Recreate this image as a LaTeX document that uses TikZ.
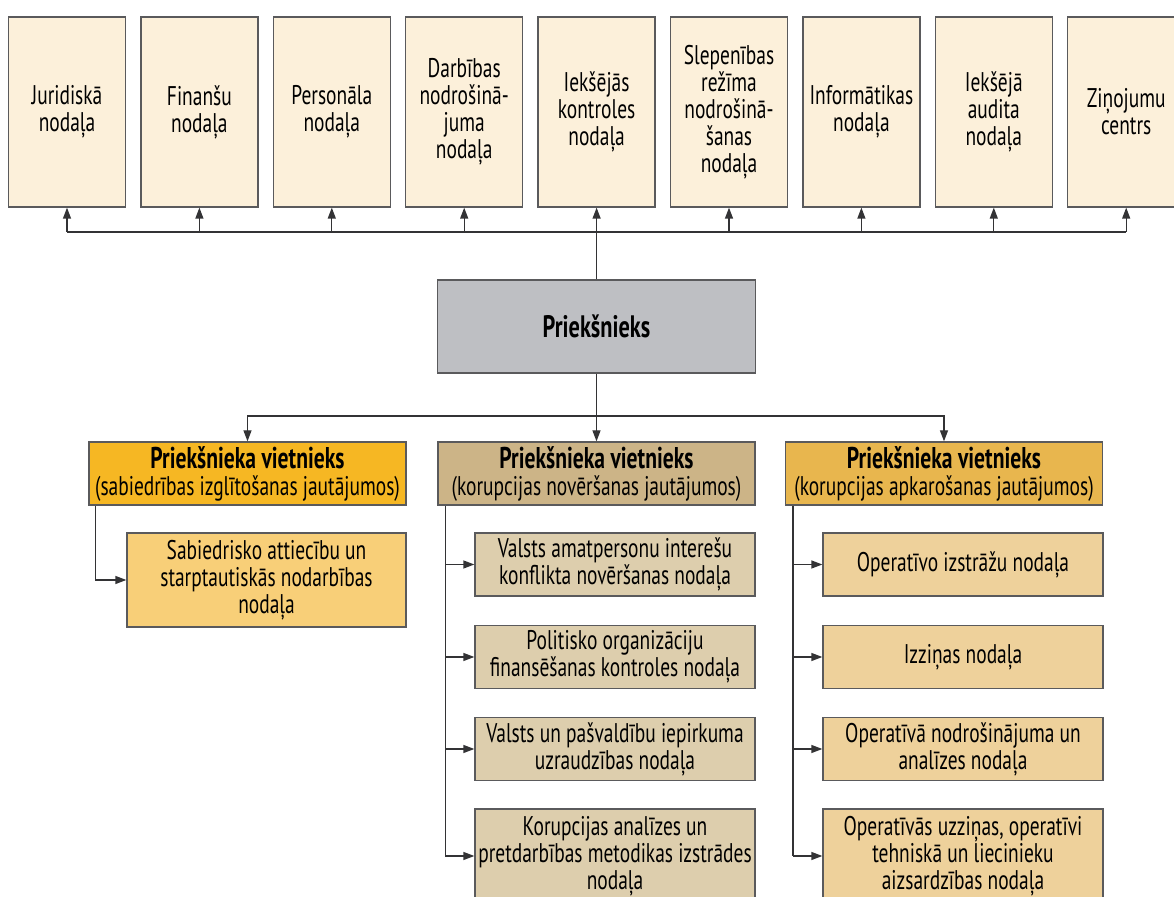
\documentclass[tikz,border=0pt]{standalone}
\usepackage{fontspec}
\setmainfont[FakeStretch=0.72]{PT Sans}
\usetikzlibrary{arrows.meta}
\definecolor{bordc}{HTML}{5A5A5C}
\definecolor{linec}{HTML}{333335}
\definecolor{topc}{HTML}{FCF0DA}
\definecolor{chiefc}{HTML}{BEBFC3}
\definecolor{dAc}{HTML}{F6B723}
\definecolor{dBc}{HTML}{CCB487}
\definecolor{dCc}{HTML}{E8B64E}
\definecolor{sAc}{HTML}{F8CF78}
\definecolor{sBc}{HTML}{DDCEAD}
\definecolor{sCc}{HTML}{EED19B}
\newcommand{\deptitle}{{\fontsize{15}{15}\selectfont\bfseries Priekšnieka vietnieks}}
\begin{document}
\begin{tikzpicture}[x=0.5pt,y=-0.5pt,
  font=\fontsize{13.5}{13.5}\selectfont,
  box/.style={draw=bordc, line width=0.65pt, align=center, inner sep=1pt},
  topbox/.style={box, fill=topc, minimum width=58.5pt, minimum height=95pt},
  subbox/.style={box, minimum width=140pt, minimum height=31.5pt},
  depbox/.style={box, minimum width=158.5pt, minimum height=31.5pt},
  conn/.style={draw=linec, line width=0.65pt},
  arr/.style={conn, -{Triangle[length=5.5pt,width=4pt]}}]
\useasboundingbox (0,0) rectangle (1174,897);
\clip (0,0) rectangle (1174,897);
% top departments
\foreach \i/\t in {1/{Juridiskā\\nodaļa},2/{Finanšu\\nodaļa},3/{Personāla\\nodaļa},4/{Darbības\\nodrošinā-\\juma\\nodaļa},5/{Iekšējās\\kontroles\\nodaļa},6/{Slepenības\\režīma\\nodrošinā-\\šanas\\nodaļa},7/{Informātikas\\nodaļa},8/{Iekšējā\\audita\\nodaļa},9/{Ziņojumu\\centrs}}
  \node[topbox] (t\i) at ({67+132.4*(\i-1)},112) {\t};
% chief
\node[box, fill=chiefc, minimum width=159pt, minimum height=46.5pt, font=\fontsize{15.5}{16}\selectfont\bfseries] (chief) at (596.5,326.5) {Priekšnieks};
\coordinate (bus) at (596.5,232);
\draw[conn] (chief.north) -- (chief.north |- bus);
\draw[conn] (t1.south |- bus) -- (t9.south |- bus);
\foreach \i in {1,...,9} \draw[arr] (t\i.south |- bus) -- (t\i.south);
% deputies
\node[depbox, fill=dAc] (d1) at (247.5,473.5) {\deptitle\\(sabiedrības izglītošanas jautājumos)};
\node[depbox, fill=dBc] (d2) at (596.5,473.5) {\deptitle\\(korupcijas novēršanas jautājumos)};
\node[depbox, fill=dCc] (d3) at (944,473.5) {\deptitle\\(korupcijas apkarošanas jautājumos)};
\coordinate (split) at (596.5,416);
\draw[arr] (chief.south) -- (d2.north);
\draw[arr] (split) -| (d1.north);
\draw[arr] (split) -| (d3.north);
% left branch
\node[box, fill=sAc, minimum width=139.5pt, minimum height=47pt] (s1) at (266.5,580) {Sabiedrisko attiecību un\\starptautiskās nodarbības\\nodaļa};
\draw[arr] ([xshift=3.5pt]d1.south west) |- (s1.west);
% middle branch
\node[subbox, fill=sBc] (m1) at (615,564.5) {Valsts amatpersonu interešu\\konflikta novēršanas nodaļa};
\node[subbox, fill=sBc] (m2) at (615,657) {Politisko organizāciju\\finansēšanas kontroles nodaļa};
\node[subbox, fill=sBc] (m3) at (615,749) {Valsts un pašvaldību iepirkuma\\uzraudzības nodaļa};
\node[subbox, fill=sBc, minimum height=47pt] (m4) at (615,856) {Korupcijas analīzes un\\pretdarbības metodikas izstrādes\\nodaļa};
\coordinate (mt) at ([xshift=4pt]d2.south west);
\draw[conn] (mt) -- (mt |- m4.west);
\foreach \n in {m1,m2,m3,m4} \draw[arr] (mt |- \n.west) -- (\n.west);
% right branch
\node[subbox, fill=sCc] (r1) at (963,564.5) {Operatīvo izstrāžu nodaļa};
\node[subbox, fill=sCc] (r2) at (963,657) {Izziņas nodaļa};
\node[subbox, fill=sCc] (r3) at (963,749) {Operatīvā nodrošinājuma un\\analīzes nodaļa};
\node[subbox, fill=sCc, minimum height=47pt] (r4) at (963,856) {Operatīvās uzziņas, operatīvi\\tehniskā un liecinieku\\aizsardzības nodaļa};
\coordinate (rt) at ([xshift=4pt]d3.south west);
\draw[conn] (rt) -- (rt |- r4.west);
\foreach \n in {r1,r2,r3,r4} \draw[arr] (rt |- \n.west) -- (\n.west);
\end{tikzpicture}
\end{document}
